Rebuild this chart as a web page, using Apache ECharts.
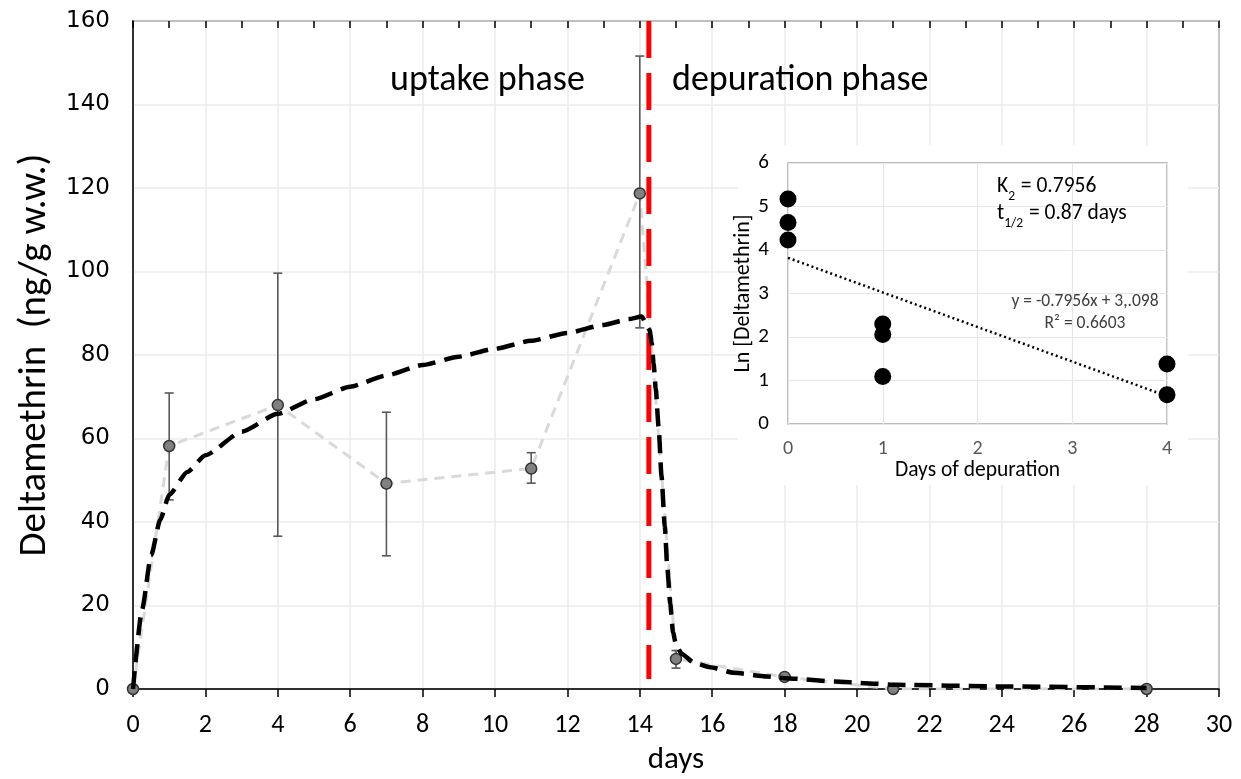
<!DOCTYPE html>
<html>
<head>
<meta charset="utf-8">
<script src="https://cdn.jsdelivr.net/npm/echarts@6/dist/echarts.min.js"></script>
<style>
  html, body { margin: 0; padding: 0; background: #fff; }
  #chart { width: 1241px; height: 779px; }
</style>
</head>
<body>
<div id="chart"></div>
<script>
// measured means (days, ng/g w.w.)
var days = [0, 1, 4, 7, 11, 14, 15, 18, 21, 28]
var conc = [0, 58.2, 68, 49.2, 52.8, 118.7, 7.2, 2.9, 0, 0]
// error bars
var errDays = [1, 4, 7, 11, 14, 15]
var errLow = [45.3, 36.6, 31.9, 49.3, 86.5, 5.0]
var errHigh = [70.9, 99.6, 66.3, 56.6, 151.6, 9.2]
// fitted model curve
var fitDays = [0, 0.25, 0.5, 0.75, 1, 1.5, 2, 3, 4, 5, 6, 7, 8, 9, 10, 11, 12, 13, 13.7, 14.05, 14.27, 14.33, 14.38, 14.44, 14.52, 14.6, 14.69, 14.76, 14.84, 14.92, 15.0, 15.16, 15.51, 15.94, 16.6, 17.5, 18, 19.4, 20.2, 21.1, 24, 28]
var fitConc = [0, 19, 32, 40.5, 46.5, 52, 56, 61.6, 65.9, 69.4, 72.4, 75.1, 77.6, 79.6, 81.5, 83.4, 85.3, 87.2, 88.6, 89.2, 86, 83, 78, 72, 62.7, 51, 39, 29, 20.5, 13.5, 10.6, 8.4, 6.2, 5.2, 3.9, 3.0, 2.6, 1.8, 1.4, 1.0, 0.6, 0.25]
// end of uptake phase
var phaseDay = 14.25
var phaseTop = 160
var phaseBottom = 2.4
// inset: ln concentration during depuration
var depDays = [0, 0, 0, 1, 1, 1, 4, 4]
var lnConc = [5.17, 4.63, 4.23, 2.3, 2.06, 1.09, 1.38, 0.67]
var trendDays = [0, 4]
var trendLn = [3.82, 0.64]

var calibri = "Carlito, Lato, 'Open Sans', sans-serif"

var chart = echarts.init(document.getElementById("chart"))

function pairs(xs, ys) {
  return xs.map(function (x, i) { return [x, ys[i]] })
}

var subRich = {
  n: { fontFamily: calibri, fontSize: 21.5, fill: "#000", verticalAlign: "bottom" },
  s: { fontFamily: calibri, fontSize: 13.5, fill: "#000", verticalAlign: "bottom", padding: [0, 1, -6, 0] }
}

var option = {
  animation: false,
  backgroundColor: "#fff",
  grid: [
    { left: 133, right: 22, top: 21, bottom: 90, outerBoundsMode: "none", containLabel: false, show: true, borderColor: "#000", borderWidth: 1.3 },
    { left: 788, top: 163, width: 379, height: 261, outerBoundsMode: "none", containLabel: false, show: true, borderColor: "#a6a6a6", borderWidth: 1.5, z: 2 }
  ],
  xAxis: [
    {
      gridIndex: 0, type: "value", min: 0, max: 30, interval: 2,
      name: "days", nameLocation: "middle", nameGap: 56,
      nameTextStyle: { fontFamily: calibri, fontSize: 31, color: "#000" },
      axisLine: { lineStyle: { color: "#000", width: 1.5 } },
      axisTick: { show: true, length: 8, lineStyle: { color: "#000", width: 1.5 } },
      axisLabel: { margin: 23, fontFamily: calibri, fontSize: 26, color: "#000" },
      splitLine: { lineStyle: { color: "#ebebeb", width: 1.5 } }
    },
    {
      gridIndex: 0, type: "value", min: 0, max: 30, interval: 1,
      axisLine: { show: false },
      axisTick: { show: true, inside: true, length: 7, lineStyle: { color: "#000", width: 1.5 } },
      axisLabel: { show: false },
      splitLine: { show: false }
    },
    {
      gridIndex: 1, type: "value", min: 0, max: 4, interval: 1, z: 3,
      name: "Days of depuration", nameLocation: "middle", nameGap: 35,
      nameTextStyle: { fontFamily: calibri, fontSize: 21.5, color: "#000" },
      axisLine: { show: false },
      axisTick: { show: false },
      axisLabel: { margin: 15, fontFamily: calibri, fontSize: 20, color: "#595959" },
      splitLine: { lineStyle: { color: "#e6e6e6", width: 1.2 } }
    }
  ],
  yAxis: [
    {
      gridIndex: 0, type: "value", min: 0, max: 160, interval: 20,
      name: "Deltamethrin  (ng/g w.w.)", nameLocation: "middle", nameGap: 77,
      nameTextStyle: { fontFamily: calibri, fontSize: 39, color: "#000" },
      axisLine: { show: true, lineStyle: { color: "#000", width: 1.5 } },
      axisTick: { show: false },
      axisLabel: { margin: 23, fontFamily: "'DejaVu Sans', Verdana, sans-serif", fontSize: 23, color: "#000" },
      splitLine: { lineStyle: { color: "#ebebeb", width: 1.5 } }
    },
    {
      gridIndex: 1, type: "value", min: 0, max: 6, interval: 1, z: 3,
      name: "Ln [Deltamethrin]", nameLocation: "middle", nameGap: 33,
      nameTextStyle: { fontFamily: calibri, fontSize: 22, color: "#000" },
      axisLine: { show: false },
      axisTick: { show: false },
      axisLabel: { margin: 19, fontFamily: calibri, fontSize: 21, color: "#000" },
      splitLine: { lineStyle: { color: "#e6e6e6", width: 1.2 } }
    }
  ],
  graphic: [
    { type: "rect", z: 1, shape: { x: 738, y: 145, width: 450, height: 340 }, style: { fill: "#fff" } },
    { type: "text", z: 10, left: 390, top: 63, style: { text: "uptake phase", fontFamily: calibri, fontSize: 36, fill: "#000" } },
    { type: "text", z: 10, left: 672, top: 63, style: { text: "depuration phase", fontFamily: calibri, fontSize: 36, fill: "#000" } },
    { type: "text", z: 10, left: 997, top: 176, style: { text: "{n|K}{s|2}{n| = 0.7956}", rich: subRich } },
    { type: "text", z: 10, left: 997, top: 203, style: { text: "{n|t}{s|1/2}{n| = 0.87 days}", rich: subRich } },
    { type: "text", z: 10, x: 1085, y: 302, style: { text: "y = -0.7956x + 3,.098", align: "center", verticalAlign: "middle", fontFamily: calibri, fontSize: 17.5, fill: "#404040" } },
    { type: "text", z: 10, x: 1085, y: 324, style: { text: "R\u00b2 = 0.6603", align: "center", verticalAlign: "middle", fontFamily: calibri, fontSize: 17.5, fill: "#404040" } }
  ],
  series: [
    {
      type: "line", xAxisIndex: 0, yAxisIndex: 0, z: 2,
      data: pairs(days, conc),
      showSymbol: false, symbol: "none",
      lineStyle: { color: "#d9d9d9", width: 3, type: [10, 7] }
    },
    {
      type: "custom", xAxisIndex: 0, yAxisIndex: 0, z: 3,
      data: errDays.map(function (d, i) { return [d, errLow[i], errHigh[i]] }),
      renderItem: function (params, api) {
        var lo = api.coord([api.value(0), api.value(1)])
        var hi = api.coord([api.value(0), api.value(2)])
        var w = 4.5
        var st = { stroke: "#595959", lineWidth: 1.6 }
        return {
          type: "group",
          children: [
            { type: "line", shape: { x1: lo[0], y1: lo[1], x2: hi[0], y2: hi[1] }, style: st },
            { type: "line", shape: { x1: lo[0] - w, y1: lo[1], x2: lo[0] + w, y2: lo[1] }, style: st },
            { type: "line", shape: { x1: hi[0] - w, y1: hi[1], x2: hi[0] + w, y2: hi[1] }, style: st }
          ]
        }
      }
    },
    {
      type: "scatter", xAxisIndex: 0, yAxisIndex: 0, z: 4,
      data: pairs(days, conc),
      symbol: "circle", symbolSize: 11,
      itemStyle: { color: "#808080", borderColor: "#333", borderWidth: 1.5, opacity: 1 }
    },
    {
      type: "line", xAxisIndex: 0, yAxisIndex: 0, z: 5,
      data: pairs([phaseDay, phaseDay], [phaseTop, phaseBottom]),
      showSymbol: false, symbol: "none",
      lineStyle: { color: "#ff0000", width: 5, type: [37, 15] }
    },
    {
      type: "line", xAxisIndex: 0, yAxisIndex: 0, z: 6,
      data: pairs(fitDays, fitConc),
      showSymbol: false, symbol: "none", smooth: 0.2, smoothMonotone: "x",
      lineStyle: { color: "#000", width: 4.5, type: [18, 9] }
    },
    {
      type: "line", xAxisIndex: 2, yAxisIndex: 1, z: 6,
      data: pairs(trendDays, trendLn),
      showSymbol: false, symbol: "none",
      lineStyle: { color: "#000", width: 2.5, type: [2, 3] }
    },
    {
      type: "scatter", xAxisIndex: 2, yAxisIndex: 1, z: 7,
      data: pairs(depDays, lnConc),
      symbol: "circle", symbolSize: 17,
      itemStyle: { color: "#000", opacity: 1 }
    }
  ]
}

chart.setOption(option)
</script>
</body>
</html>
